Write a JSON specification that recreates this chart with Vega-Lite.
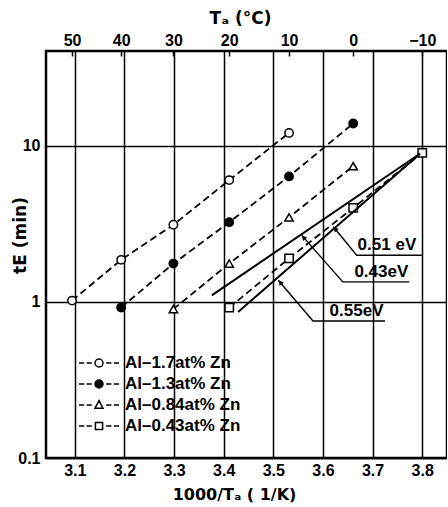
{
  "$schema": "https://vega.github.io/schema/vega-lite/v6.json",
  "width": 401,
  "height": 407,
  "autosize": {"type": "none"},
  "padding": {"left": 46, "top": 51, "right": 0, "bottom": 49},
  "background": "white",
  "config": {
    "view": {"stroke": "black", "strokeWidth": 2.5},
    "font": "Liberation Sans",
    "axis": {
      "labelFont": "Liberation Sans",
      "labelFontSize": 16,
      "labelFontWeight": "bold",
      "labelColor": "black",
      "titleFont": "DejaVu Sans",
      "titleFontSize": 15,
      "titleFontWeight": "bold",
      "titleColor": "black",
      "domain": false,
      "ticks": false,
      "gridColor": "black",
      "gridOpacity": 1,
      "gridWidth": 1.5
    },
    "legend": {
      "labelFont": "Liberation Sans",
      "labelFontSize": 17,
      "labelFontWeight": "bold",
      "labelColor": "black",
      "symbolSize": 256,
      "symbolStrokeWidth": 1.5,
      "symbolStrokeColor": "black",
      "symbolOpacity": 1,
      "labelOffset": 17,
      "rowPadding": 4,
      "padding": 0
    }
  },
  "datasets": {
    "series": [
      {"alloy": "Al–1.7at% Zn", "x": 3.0945, "y": 1.02},
      {"alloy": "Al–1.7at% Zn", "x": 3.1934, "y": 1.86},
      {"alloy": "Al–1.7at% Zn", "x": 3.2987, "y": 3.12},
      {"alloy": "Al–1.7at% Zn", "x": 3.4112, "y": 6.03},
      {"alloy": "Al–1.7at% Zn", "x": 3.5317, "y": 12.1},
      {"alloy": "Al–1.3at% Zn", "x": 3.1934, "y": 0.92},
      {"alloy": "Al–1.3at% Zn", "x": 3.2987, "y": 1.76},
      {"alloy": "Al–1.3at% Zn", "x": 3.4112, "y": 3.24},
      {"alloy": "Al–1.3at% Zn", "x": 3.5317, "y": 6.37},
      {"alloy": "Al–1.3at% Zn", "x": 3.661, "y": 13.9},
      {"alloy": "Al–0.84at% Zn", "x": 3.2987, "y": 0.9},
      {"alloy": "Al–0.84at% Zn", "x": 3.4112, "y": 1.76},
      {"alloy": "Al–0.84at% Zn", "x": 3.5317, "y": 3.48},
      {"alloy": "Al–0.84at% Zn", "x": 3.661, "y": 7.41},
      {"alloy": "Al–0.43at% Zn", "x": 3.4112, "y": 0.92},
      {"alloy": "Al–0.43at% Zn", "x": 3.5317, "y": 1.9},
      {"alloy": "Al–0.43at% Zn", "x": 3.661, "y": 4.0},
      {"alloy": "Al–0.43at% Zn", "x": 3.8001, "y": 9.02}
    ],
    "fits": [
      {"fit": "0.43eV", "x": 3.376, "y": 1.1},
      {"fit": "0.43eV", "x": 3.796, "y": 8.93},
      {"fit": "0.55eV", "x": 3.429, "y": 0.863},
      {"fit": "0.55eV", "x": 3.794, "y": 8.8}
    ],
    "leaders": [
      {"label": "0.51 eV", "o": 1, "x": 3.621, "y": 3.03},
      {"label": "0.51 eV", "o": 2, "x": 3.668, "y": 1.99},
      {"label": "0.51 eV", "o": 3, "x": 3.799, "y": 1.99},
      {"label": "0.43eV", "o": 1, "x": 3.557, "y": 2.677},
      {"label": "0.43eV", "o": 2, "x": 3.64, "y": 1.344},
      {"label": "0.43eV", "o": 3, "x": 3.774, "y": 1.344},
      {"label": "0.55eV", "o": 1, "x": 3.51, "y": 1.378},
      {"label": "0.55eV", "o": 2, "x": 3.58, "y": 0.755},
      {"label": "0.55eV", "o": 3, "x": 3.725, "y": 0.755}
    ],
    "arrows": [
      {"label": "0.51 eV", "x": 3.625, "y": 2.93},
      {"label": "0.43eV", "x": 3.561, "y": 2.59},
      {"label": "0.55eV", "x": 3.514, "y": 1.335}
    ],
    "labels": [
      {"label": "0.51 eV", "x": 3.788, "y": 1.99},
      {"label": "0.43eV", "x": 3.772, "y": 1.344},
      {"label": "0.55eV", "x": 3.722, "y": 0.755}
    ]
  },
  "encoding": {
    "y": {
      "field": "y",
      "type": "quantitative",
      "scale": {"type": "log", "domain": [0.1, 40.5], "nice": false},
      "axis": {
        "values": [0.1, 1, 10],
        "format": "~g",
        "grid": true,
        "labelPadding": 6,
        "title": "tE (min)",
        "titleFontSize": 17,
        "titleX": -26,
        "titleY": 184,
        "titleAngle": 270,
        "titleBaseline": "middle",
        "titleAlign": "center"
      }
    }
  },
  "resolve": {"axis": {"x": "independent"}, "scale": {"shape": "independent", "fill": "independent"}, "legend": {"shape": "independent", "fill": "independent"}},
  "layer": [
    {
      "data": {"name": "series"},
      "mark": {"type": "line", "strokeDash": [7, 4], "strokeWidth": 1.8, "color": "black"},
      "encoding": {
        "x": {
          "field": "x",
          "type": "quantitative",
          "scale": {"domain": [3.042, 3.85], "nice": false, "zero": false},
          "axis": {
            "orient": "bottom",
            "values": [3.1, 3.2, 3.3, 3.4, 3.5, 3.6, 3.7, 3.8],
            "format": ".1f",
            "grid": true,
            "labelPadding": 4,
            "title": "1000/Tₐ ( 1/K)",
            "titleFontSize": 16,
            "titleX": 188,
            "titleY": 36,
            "titleBaseline": "middle"
          }
        },
        "detail": {"field": "alloy"}
      }
    },
    {
      "data": {"name": "series"},
      "mark": {"type": "point", "stroke": "black", "strokeWidth": 1.5, "size": 70, "opacity": 1},
      "encoding": {
        "x": {"field": "x", "type": "quantitative", "axis": null},
        "shape": {
          "field": "alloy",
          "type": "nominal",
          "scale": {
            "domain": ["Al–1.7at% Zn", "Al–1.3at% Zn", "Al–0.84at% Zn", "Al–0.43at% Zn"],
            "range": ["circle", "circle", "triangle-up", "square"]
          },
          "legend": null
        },
        "fill": {
          "field": "alloy",
          "type": "nominal",
          "scale": {
            "domain": ["Al–1.7at% Zn", "Al–1.3at% Zn", "Al–0.84at% Zn", "Al–0.43at% Zn"],
            "range": ["white", "black", "white", "white"]
          },
          "legend": null
        }
      }
    },
    {
      "data": {"name": "series"},
      "mark": {"type": "point", "clip": true, "stroke": "black", "strokeWidth": 1.5, "opacity": 1},
      "encoding": {
        "x": {"field": "x", "type": "quantitative", "axis": null},
        "y": {"datum": 1000, "type": "quantitative"},
        "shape": {
          "field": "alloy",
          "type": "nominal",
          "scale": {
            "domain": ["Al–1.7at% Zn", "Al–1.3at% Zn", "Al–0.84at% Zn", "Al–0.43at% Zn"],
            "range": [
              "M-2.5,0H-1.85M-1.55,0H-0.9M0.9,0H1.55M1.85,0H2.5M0.5,0A0.5,0.5 0 1,1 -0.5,0A0.5,0.5 0 1,1 0.5,0Z",
              "M-2.5,0H-1.85M-1.55,0H-0.9M0.9,0H1.55M1.85,0H2.5M0.5,0A0.5,0.5 0 1,1 -0.5,0A0.5,0.5 0 1,1 0.5,0Z",
              "M-2.5,0H-1.85M-1.55,0H-0.9M0.9,0H1.55M1.85,0H2.5M0,-0.55L0.5,0.4L-0.5,0.4Z",
              "M-2.5,0H-1.85M-1.55,0H-0.9M0.9,0H1.55M1.85,0H2.5M-0.45,-0.45H0.45V0.45H-0.45Z"
            ]
          },
          "legend": {
            "title": null,
            "orient": "none",
            "legendX": 44,
            "legendY": 303,
            "encode": {
              "symbols": {
                "update": {
                  "stroke": {"value": "black"},
                  "strokeWidth": {"value": 1.5},
                  "opacity": {"value": 1},
                  "strokeOpacity": {"value": 1}
                }
              }
            }
          }
        },
        "fill": {
          "field": "alloy",
          "type": "nominal",
          "scale": {
            "domain": ["Al–1.7at% Zn", "Al–1.3at% Zn", "Al–0.84at% Zn", "Al–0.43at% Zn"],
            "range": ["white", "black", "white", "white"]
          },
          "legend": {
            "title": null,
            "orient": "none",
            "legendX": 44,
            "legendY": 303,
            "encode": {
              "symbols": {
                "update": {
                  "stroke": {"value": "black"},
                  "strokeWidth": {"value": 1.5},
                  "opacity": {"value": 1},
                  "strokeOpacity": {"value": 1}
                }
              }
            }
          }
        }
      }
    },
    {
      "data": {"name": "fits"},
      "mark": {"type": "line", "strokeWidth": 2, "color": "black"},
      "encoding": {
        "x": {"field": "x", "type": "quantitative", "axis": null},
        "detail": {"field": "fit"}
      }
    },
    {
      "data": {"name": "leaders"},
      "mark": {"type": "line", "strokeWidth": 1.4, "color": "black"},
      "encoding": {
        "x": {"field": "x", "type": "quantitative", "axis": null},
        "detail": {"field": "label"},
        "order": {"field": "o"}
      }
    },
    {
      "data": {"name": "arrows"},
      "mark": {"type": "point", "shape": "triangle-up", "size": 30, "angle": 320, "filled": true, "color": "black", "opacity": 1},
      "encoding": {
        "x": {"field": "x", "type": "quantitative", "axis": null}
      }
    },
    {
      "data": {"name": "labels"},
      "mark": {"type": "text", "align": "right", "baseline": "bottom", "dy": -1, "font": "Liberation Sans", "fontSize": 17, "fontWeight": "bold", "color": "black"},
      "encoding": {
        "x": {"field": "x", "type": "quantitative", "axis": null},
        "text": {"field": "label"}
      }
    },
    {
      "data": {"name": "series"},
      "mark": {"type": "point", "opacity": 0},
      "encoding": {
        "x": {
          "field": "x",
          "type": "quantitative",
          "axis": {
            "orient": "top",
            "values": [3.0945, 3.1934, 3.2987, 3.4112, 3.5317, 3.661, 3.8001],
            "labelExpr": "format(1000 / datum.value - 273.15, '.0f')",
            "grid": false,
            "ticks": true,
            "tickSize": -5,
            "tickWidth": 1.5,
            "tickColor": "black",
            "labelPadding": 8,
            "title": "Tₐ (°C)",
            "titleFontSize": 17,
            "titleX": 194,
            "titleY": -33,
            "titleBaseline": "middle"
          }
        }
      }
    }
  ]
}
